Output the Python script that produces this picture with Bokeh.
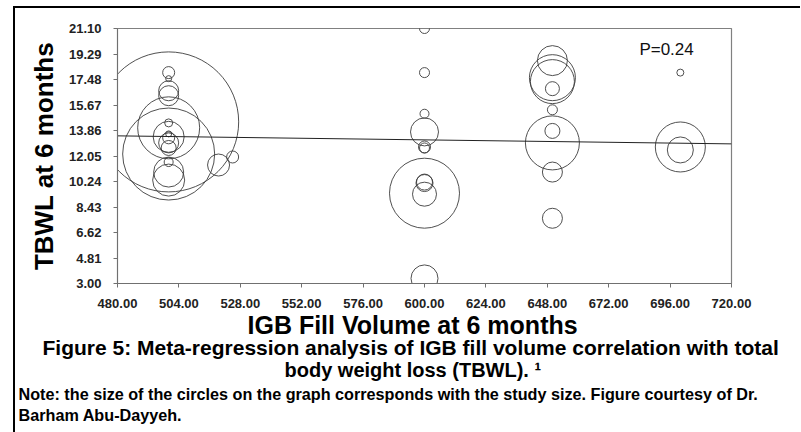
from bokeh.plotting import figure
from bokeh.models import Range1d, FixedTicker, PrintfTickFormatter, Title, Label, InlineStyleSheet
from bokeh.embed import file_html
from bokeh.resources import INLINE

# ---- data ----
fill_volume = [500, 500, 500, 500, 500, 500, 500, 500, 500, 500, 500, 500, 500, 500, 500, 500,
               519.5, 525,
               600, 600, 600, 600, 600, 600, 600, 600, 600, 600, 600,
               650, 650, 650, 650, 650, 650, 650, 650, 650,
               700, 700, 700]
tbwl = [14.47, 14.05, 12.19, 17.97, 17.54, 16.68, 16.33, 14.40, 13.62, 13.41, 13.34, 12.98, 12.62, 11.62, 10.91, 10.34,
        11.41, 11.98,
        21.10, 17.97, 15.05, 13.76, 12.69, 12.62, 9.41, 10.13, 10.20, 9.34, 3.36,
        18.82, 17.61, 17.33, 16.83, 15.33, 13.83, 12.98, 10.91, 7.63,
        17.97, 12.69, 12.48]
study_weight = [70, 31, 46, 6, 3, 10, 10, 4, 3, 15.5, 6, 10, 7.5, 4.5, 15, 16,
                11, 6,
                5, 5, 4.5, 14, 6, 5, 35, 8.5, 8, 12, 13.5,
                15, 23, 22, 7, 5, 7.5, 27, 10, 10,
                3.5, 25, 13]

reg_x = [480, 720]
reg_y = [13.48, 12.91]

x_ticks = [480, 504, 528, 552, 576, 600, 624, 648, 672, 696, 720]
y_ticks = [3.00, 4.81, 6.62, 8.43, 10.24, 12.05, 13.86, 15.67, 17.48, 19.29, 21.10]

p_value_text = "P=0.24"
p_value_pos = (684, 19.6)

x_label = "IGB Fill Volume at 6 months"
y_label = "TBWL at 6 months"
caption1 = "Figure 5: Meta-regression analysis of IGB fill volume correlation with total"
caption2 = "body weight loss (TBWL). \u00b9"
note1 = "Note: the size of the circles on the graph corresponds with the study size. Figure courtesy of Dr."
note2 = "Barham Abu-Dayyeh."

FONT = "Liberation Sans"

frame_css = InlineStyleSheet(css="""
:host { position: relative; }
:host::after {
  content: ""; position: absolute; left: 13px; top: 6px;
  width: calc(100% - 13px); height: calc(100% - 6px);
  border-top: 2px solid #000; border-left: 2px solid #000;
  box-sizing: border-box; pointer-events: none; z-index: 10;
}
""")

p = figure(width=800, height=432, x_range=Range1d(480, 720), y_range=Range1d(3.0, 21.1),
           output_backend="svg", toolbar_location=None,
           min_border_left=117, min_border_right=69, min_border_top=28, min_border_bottom=149,
           stylesheets=[frame_css])
p.grid.visible = False
p.outline_line_color = "#808080"
p.outline_line_width = 1.2

diam = [2 * w for w in study_weight]
p.scatter(fill_volume, tbwl, size=diam, marker="circle", fill_color=None,
          line_color="#3c3c3c", line_width=0.9)
p.line(reg_x, reg_y, line_color="#222222", line_width=1)

p.add_layout(Label(x=p_value_pos[0], y=p_value_pos[1], text=p_value_text, text_font=FONT,
                   text_font_size="17px", text_baseline="middle", text_color="#111111"))

for ax in (p.xaxis[0], p.yaxis[0]):
    ax.axis_line_color = "#707070"
    ax.major_tick_line_color = "#707070"
    ax.minor_tick_line_color = None
    ax.major_tick_in = 0
    ax.major_tick_out = 4
    ax.major_label_text_font = FONT
    ax.major_label_text_font_style = "bold"
    ax.major_label_text_font_size = "13px"
    ax.major_label_text_color = "#222222"
    ax.axis_label_text_font = FONT
    ax.axis_label_text_font_style = "bold"
    ax.axis_label_text_font_size = "26px"
    ax.axis_label_text_color = "#000000"

p.xaxis.ticker = FixedTicker(ticks=x_ticks)
p.yaxis.ticker = FixedTicker(ticks=y_ticks)
p.xaxis.formatter = PrintfTickFormatter(format="%.2f")
p.yaxis.formatter = PrintfTickFormatter(format="%.2f")
p.yaxis.axis_label = y_label
p.xaxis.major_label_standoff = 11
p.yaxis.major_label_standoff = 12
p.yaxis.axis_label_standoff = 7

# captions below the chart (offset measured from the frame's left edge)
for txt, size, off, so in [(x_label, "25px", 130, -3),
                           (caption1, "21px", -75, -7),
                           (caption2, "20px", 167, 2),
                           (note1, "16.2px", -99, 3),
                           (note2, "16.2px", -99, -2)]:
    t = Title(text=txt, align="left", offset=off, text_font=FONT, text_font_style="bold",
              text_font_size=size, text_color="#000000", standoff=so)
    p.add_layout(t, "below")

open("out.html", "w").write(file_html(p, INLINE))
